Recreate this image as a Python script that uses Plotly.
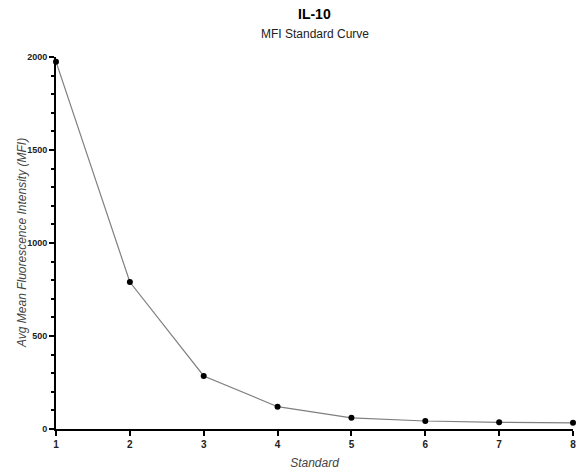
import plotly.graph_objects as go

standard = [1, 2, 3, 4, 5, 6, 7, 8]
mfi = [1975, 790, 285, 120, 60, 43, 36, 33]
y_ticks = [0, 500, 1000, 1500, 2000]

fig = go.Figure()
fig.add_trace(go.Scatter(
    x=standard, y=mfi, mode="lines+markers",
    line=dict(color="#7f7f7f", width=1.2),
    marker=dict(color="black", size=6),
    cliponaxis=False, showlegend=False,
))

fig.update_layout(
    width=581, height=471,
    margin=dict(l=56, r=8, t=57, b=42),
    paper_bgcolor="white", plot_bgcolor="white",
    font=dict(family="Liberation Sans, Arial, sans-serif", color="black"),
)
fig.add_annotation(text="<b>IL-10</b>", xref="paper", yref="paper", x=0.5, y=1.0,
                   yanchor="middle", yshift=43, showarrow=False,
                   font=dict(size=14, color="black"))
fig.add_annotation(text="MFI Standard Curve", xref="paper", yref="paper", x=0.5, y=1.0,
                   yanchor="middle", yshift=23, showarrow=False,
                   font=dict(size=12, color="#222"))
fig.add_annotation(text="<i>Avg Mean Fluorescence Intensity (MFI)</i>",
                   xref="paper", yref="paper", x=0.0, y=0.5, xanchor="center",
                   yanchor="middle", xshift=-34, textangle=-90, showarrow=False,
                   font=dict(size=12, color="#444"))

fig.update_xaxes(
    range=[1, 8], tickmode="array", tickvals=standard,
    ticktext=[f"<b>{v}</b>" for v in standard],
    showline=True, linecolor="black", linewidth=2,
    ticks="outside", ticklen=5, tickwidth=2, tickcolor="black",
    showgrid=False, zeroline=False, automargin=False,
    tickfont=dict(size=10, color="#222"),
    title=dict(text="<i>Standard</i>", font=dict(size=12, color="#444"), standoff=10),
)
fig.update_yaxes(
    range=[0, 2000], tickmode="array", tickvals=y_ticks,
    ticktext=[f"<b>{v}</b>" for v in y_ticks],
    showline=True, linecolor="black", linewidth=2,
    ticks="outside", ticklen=5, tickwidth=2, tickcolor="black",
    minor=dict(dtick=100, ticks="outside", ticklen=3, tickwidth=1.5, tickcolor="black", showgrid=False),
    showgrid=False, zeroline=False, automargin=False,
    tickfont=dict(size=9, color="#222"),
)

fig.write_html("out.html", config={"displayModeBar": False},
               post_script="document.body.style.margin='0';")
